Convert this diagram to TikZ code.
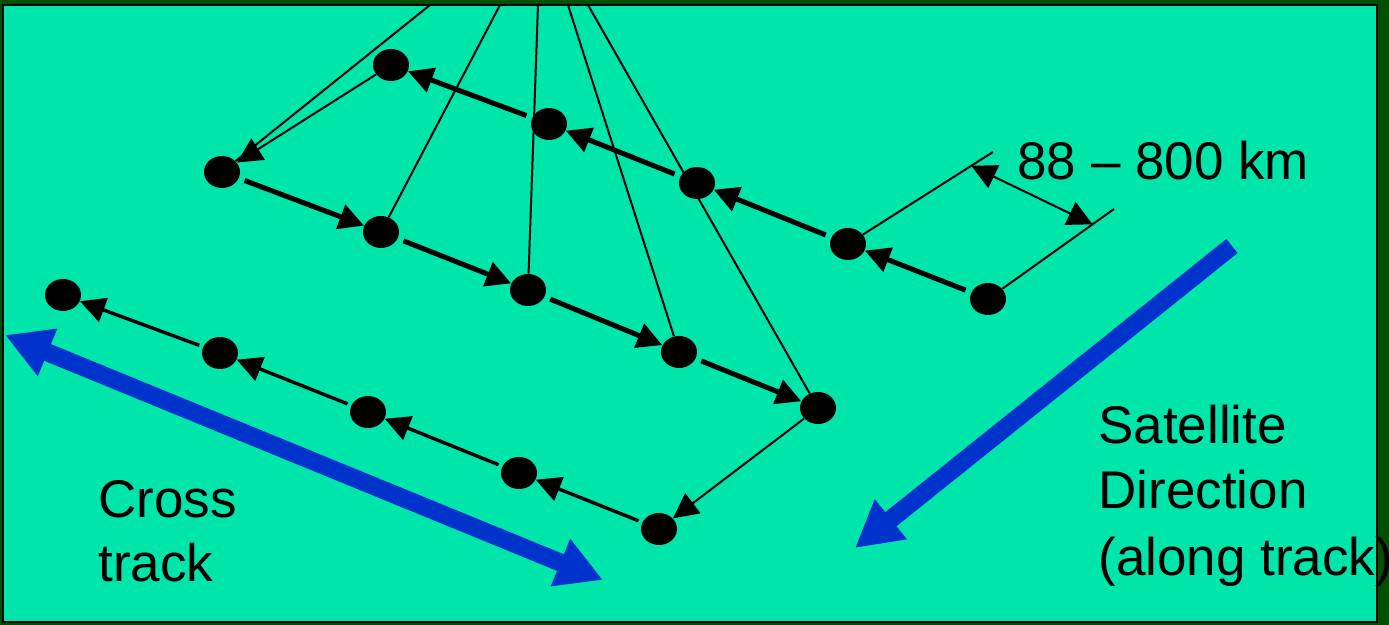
\documentclass[tikz,border=0pt]{standalone}
\usepackage{fontspec}
\setmainfont{Liberation Sans}
\usetikzlibrary{arrows.meta, calc, shapes.geometric}
\definecolor{sea}{RGB}{0,229,170}
\definecolor{dkgreen}{RGB}{0,80,0}
\definecolor{trackblue}{RGB}{0,51,204}
\tikzset{%
    dot/.style={ellipse, fill=black, minimum width=18pt, minimum height=16pt, inner sep=0pt},
    pria/.style={line width=2.5pt, -{Triangle[length=12.5pt,width=12.5pt]}, shorten <=3pt},
    meda/.style={line width=1.7pt, -{Triangle[length=12.5pt,width=12.5pt]}, shorten <=2pt},
    seca/.style={line width=1pt, -{Triangle[length=12.5pt,width=12.5pt]}},
    secda/.style={line width=1pt, {Triangle[length=12.5pt,width=12.5pt]}-{Triangle[length=12.5pt,width=12.5pt]}},
    sec/.style={line width=1pt},
    blua/.style={line width=9pt, trackblue, -{Triangle[length=23pt,width=24pt]}},
    bluda/.style={line width=9pt, trackblue, {Triangle[length=23pt,width=24pt]}-{Triangle[length=23pt,width=24pt]}},
    lbl/.style={anchor=base west, inner sep=0pt, font=\fontsize{26.5}{32}\selectfont},
}

\begin{document}
\begin{tikzpicture}[x=0.5pt, y=-0.5pt]
    \useasboundingbox (0,0) rectangle (1389,625);
    \fill[dkgreen] (0,0) rectangle (1389,625);
    \filldraw[fill=sea, draw=black, line width=1pt] (3,5) rectangle (1377,622);
    % footprints, first scan
    \node[dot] (D1) at (391,65) {};
    \node[dot] (D2) at (549,124) {};
    \node[dot] (D3) at (697,183) {};
    \node[dot] (D4) at (848,244) {};
    \node[dot] (D5) at (988,299) {};
    % second scan
    \node[dot] (A1) at (222,172) {};
    \node[dot] (A2) at (381,232) {};
    \node[dot] (A3) at (528,290) {};
    \node[dot] (A4) at (679,352) {};
    \node[dot] (A5) at (818,408) {};
    % third scan
    \node[dot] (B1) at (63,295) {};
    \node[dot] (B2) at (220,353) {};
    \node[dot] (B3) at (368,412) {};
    \node[dot] (B4) at (519,473) {};
    \node[dot] (B5) at (659,529) {};
    % view lines from the satellite
    \coordinate (t1) at (430,5);
    \coordinate (t2) at (500,5);
    \coordinate (t3) at (538,5);
    \coordinate (t4) at (568,5);
    \coordinate (t5) at (588,5);
    \draw [sec] (t1) -- (A1);
    \draw [sec] (t2) -- (A2);
    \draw [sec] (t3) -- (A3);
    \draw [sec] (t4) -- (A4);
    \draw [sec] (t5) -- (A5);
    % scan path
    \draw [pria] (D5) -- (D4);
    \draw [pria] (D4) -- (D3);
    \draw [pria] (D3) -- (D2);
    \draw [pria] (D2) -- (D1);
    \draw [seca] (D1) -- (A1);
    \draw [pria] (A1) -- (A2);
    \draw [pria] (A2) -- (A3);
    \draw [pria] (A3) -- (A4);
    \draw [pria] (A4) -- (A5);
    \draw [seca] (A5) -- (B5);
    \draw [meda] (B5) -- (B4);
    \draw [meda] (B4) -- (B3);
    \draw [meda] (B3) -- (B2);
    \draw [meda] (B2) -- (B1);
    % spacing
    \coordinate (e1) at (993,152);
    \coordinate (e2) at (1114,209);
    \draw [sec] (D4) -- (e1);
    \draw [sec] (D5) -- (e2);
    \draw [secda] ($(D4)!0.85!(e1)$) -- ($(D5)!0.83!(e2)$);
    \node[lbl] (dist) at (1017,180) {88 – 800 km};
    % directions
    \coordinate (ct1) at (5,335);
    \coordinate (ct2) at (603,580);
    \coordinate (sd1) at (1232,246);
    \coordinate (sd2) at (855,548);
    \draw [bluda] (ct1) -- (ct2);
    \draw [blua] (sd1) -- (sd2);
    \node[lbl] (cross1) at (98,518) {Cross};
    \node[lbl] (cross2) at (98,582) {track};
    \node[lbl] (sat1) at (1098,444) {Satellite};
    \node[lbl] (sat2) at (1098,509) {Direction};
    \node[lbl] (sat3) at (1098,576) {(along track)};
\end{tikzpicture}
\end{document}
